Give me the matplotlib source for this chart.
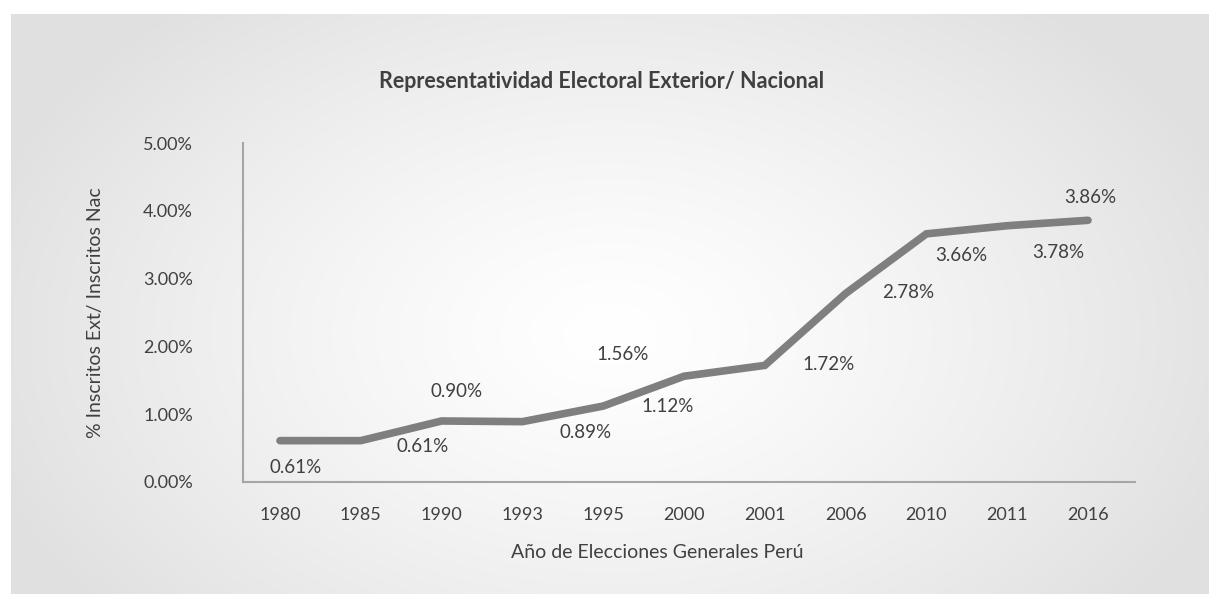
import numpy as np
import matplotlib
matplotlib.use("Agg")
import matplotlib.pyplot as plt

plt.rcParams['font.family'] = ['Lato', 'DejaVu Sans']

years = ["1980", "1985", "1990", "1993", "1995", "2000", "2001", "2006", "2010", "2011", "2016"]
values = [0.61, 0.61, 0.90, 0.89, 1.12, 1.56, 1.72, 2.78, 3.66, 3.78, 3.86]
value_labels = ["0.61%", "0.61%", "0.90%", "0.89%", "1.12%", "1.56%", "1.72%", "2.78%", "3.66%", "3.78%", "3.86%"]
yticks = [0, 1, 2, 3, 4, 5]
ytick_labels = ["0.00%", "1.00%", "2.00%", "3.00%", "4.00%", "5.00%"]

# label offsets (pixels)
label_offsets = [(16, -27), (62, -6), (15, 29), (63, -11), (64, 0), (-61, 22),
                 (64, 1), (63, 1), (35, -22), (51, -27), (2, 23)]

W, H = 1209, 594
fig = plt.figure(figsize=(W / 100, H / 100), dpi=100)
fig.patch.set_facecolor('white')

# gradient background panel
bg = fig.add_axes([11 / W, 0, 1 - 11 / W, 1 - 14 / H])
bg.set_axis_off()
ny, nx = 300, 600
yy, xx = np.mgrid[0:ny, 0:nx]
cx, cy = nx * 0.5, ny * 0.55
r = np.sqrt(((xx - cx) / (nx * 0.55)) ** 2 + ((yy - cy) / (ny * 0.75)) ** 2)
r = np.clip(r, 0, 1)
val = 1.0 - 0.12 * r ** 1.3
img = np.dstack([val, val, val])
bg.imshow(img, aspect='auto', extent=[0, 1, 0, 1], interpolation='bilinear')
bg.set_xlim(0, 1)
bg.set_ylim(0, 1)

text_color = '#404040'
ax = fig.add_axes([243 / W, (H - 482) / H, (1135 - 243) / W, (482 - 143) / H])
ax.patch.set_alpha(0)
x = np.arange(len(years))
ax.plot(x, values, color='#7f7f7f', linewidth=5.5, solid_capstyle='round', solid_joinstyle='miter', zorder=3)

ax.set_xlim(-37 / 80.8, 10 + 47 / 80.8)
ax.set_ylim(0, 5)
ax.set_yticks(yticks)
ax.set_yticklabels(ytick_labels)
ax.set_xticks(x)
ax.set_xticklabels(years)
ax.tick_params(axis='both', length=0, labelsize=13, colors=text_color)
ax.tick_params(axis='y', pad=36)
ax.tick_params(axis='x', pad=18)

for s in ['top', 'right']:
    ax.spines[s].set_visible(False)
for s in ['left', 'bottom']:
    ax.spines[s].set_color('#a6a6a6')
    ax.spines[s].set_linewidth(1.5)

for xi, v, lab, off in zip(x, values, value_labels, label_offsets):
    ax.annotate(lab, (xi, v), xytext=off, textcoords='offset pixels',
                ha='center', va='center', fontsize=13.5, color=text_color)

fig.text(602 / W, 1 - 82 / H, "Representatividad Electoral Exterior/ Nacional",
         ha='center', va='center', fontsize=15.5, fontweight='bold', color=text_color)
fig.text(657 / W, 1 - 553 / H, "Año de Elecciones Generales Perú",
         ha='center', va='center', fontsize=14, color=text_color)
fig.text(95 / W, 1 - 313 / H, "% Inscritos Ext/ Inscritos Nac",
         ha='center', va='center', fontsize=14, color=text_color, rotation=90)

fig.savefig("out.png", dpi=100)
